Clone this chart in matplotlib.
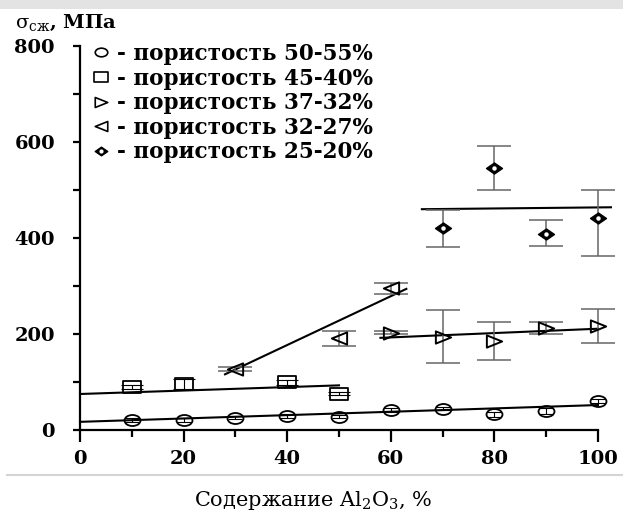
import matplotlib
matplotlib.use("Agg")
import matplotlib.pyplot as plt
import numpy as np
from matplotlib.lines import Line2D
from matplotlib.path import Path
from matplotlib.transforms import Affine2D
from matplotlib.ticker import MultipleLocator

# --- data ---
x_circ = [10, 20, 30, 40, 50, 60, 70, 80, 90, 100]
y_circ = [21, 21, 26, 30, 28, 42, 44, 33, 40, 60]
err_circ = [4, 4, 3, 4, 3, 4, 3, 5, 6, 4]

x_sq = [10, 20, 40, 50]
y_sq = [90, 96, 99, 76]
err_sq = [4, 10, 5, 3]

x_lt = [30, 50, 60]
y_lt = [127, 191, 295]
err_lt = [4, 15, 12]

x_rt = [60, 70, 80, 90, 100]
y_rt = [203, 194, 185, 213, 217]
err_rt = [4, 55, 40, 12, 35]

x_dm = [70, 80, 90, 100]
y_dm = [420, 546, 408, 441]
err_dm_lo = [38, 46, 24, 78]
err_dm_hi = [38, 46, 29, 60]

# trend lines (end points)
trend_circ = ([0, 100], [17, 52])
trend_sq = ([0, 50], [75, 93])
trend_lt = ([28, 63], [116, 294])
trend_rt = ([58, 100], [192, 211])
trend_dm = ([66, 102.5], [460, 464])

labels = [
    "- пористость 50-55%",
    "- пористость 45-40%",
    "- пористость 37-32%",
    "- пористость 32-27%",
    "- пористость 25-20%",
]

plt.rcParams["font.family"] = ["DejaVu Serif"]
plt.rcParams["mathtext.fontset"] = "custom"
plt.rcParams["mathtext.rm"] = "DejaVu Serif"


def stretched(path, sx):
    # the scanned figure is wider than tall, so markers are too
    return Affine2D().scale(sx, 1).transform_path(path)


m_circ = stretched(Path.unit_circle(), 1.45)
m_sq = stretched(Path.unit_rectangle().transformed(Affine2D().translate(-0.5, -0.5)), 1.4)
m_rt = stretched(Path([(-1, 1), (1, 0), (-1, -1), (-1, 1)], closed=True), 1.25)
m_lt = stretched(Path([(1, 1), (-1, 0), (1, -1), (1, 1)], closed=True), 1.25)
m_dm = stretched(Path([(0, 1), (1, 0), (0, -1), (-1, 0), (0, 1)], closed=True), 1.45)

fig = plt.figure(figsize=(6.23, 5.12), dpi=100)
ax = fig.add_axes([80 / 623, 82 / 512, 518 / 623, 384 / 512])

lw = 1.5
ekw = dict(ecolor="#666666", elinewidth=1.1, capsize=12, capthick=1.1, ls="none")

# trend lines
for tx, ty in [trend_circ, trend_sq, trend_lt, trend_rt, trend_dm]:
    ax.plot(tx, ty, color="black", lw=lw, clip_on=False, zorder=3)


def draw_errors(x, y, yerr, **kw):
    eb = ax.errorbar(x, y, yerr=yerr, fmt="none", zorder=4, **kw)
    for art in eb.lines[1] + eb.lines[2]:
        art.set_clip_on(False)


# circles
draw_errors(x_circ, y_circ, err_circ, ecolor="black", elinewidth=0.8, capsize=5, capthick=0.8)
ax.plot(x_circ, y_circ, ls="none", marker=m_circ, ms=11.5, mfc="none",
        mec="black", mew=1.3, zorder=5, clip_on=False)

# squares
draw_errors(x_sq, y_sq, err_sq, ecolor="black", elinewidth=0.8, capsize=8, capthick=0.8)
ax.plot(x_sq, y_sq, ls="none", marker=m_sq, ms=13, mfc="none",
        mec="black", mew=1.3, zorder=5, clip_on=False)

# left triangles
draw_errors(x_lt, y_lt, err_lt, **ekw)
ax.plot(x_lt, y_lt, ls="none", marker=m_lt, ms=11, mfc="none",
        mec="black", mew=1.4, zorder=5, clip_on=False)

# right triangles
draw_errors(x_rt, y_rt, err_rt, **ekw)
ax.plot(x_rt, y_rt, ls="none", marker=m_rt, ms=11, mfc="none",
        mec="black", mew=1.4, zorder=5, clip_on=False)

# diamonds
draw_errors(x_dm, y_dm, [err_dm_lo, err_dm_hi], **ekw)
ax.plot(x_dm, y_dm, ls="none", marker=m_dm, ms=11.5, mfc="black",
        mec="black", mew=1, zorder=5, clip_on=False)
ax.plot(x_dm, y_dm, ls="none", marker="o", ms=2.2, mfc="white",
        mec="white", zorder=6, clip_on=False)

ax.set_xlim(0, 100)
ax.set_ylim(0, 800)
for s in ["top", "right"]:
    ax.spines[s].set_visible(False)
for s in ["left", "bottom"]:
    ax.spines[s].set_linewidth(1.6)

ax.xaxis.set_major_locator(MultipleLocator(20))
ax.xaxis.set_minor_locator(MultipleLocator(10))
ax.yaxis.set_major_locator(MultipleLocator(200))
ax.yaxis.set_minor_locator(MultipleLocator(100))
ax.tick_params(axis="x", which="major", direction="out", length=8.5, width=1.6, pad=6)
ax.tick_params(axis="x", which="minor", direction="out", length=5, width=1.6)
ax.tick_params(axis="y", which="both", direction="out", length=5, width=1.6, pad=13)
for t in ax.get_xticklabels() + ax.get_yticklabels():
    t.set_fontweight("bold")
    t.set_fontsize(14)

# legend
handles = [
    Line2D([], [], ls="none", marker=m_circ, ms=9, mfc="none", mec="black", mew=1.2),
    Line2D([], [], ls="none", marker=m_sq, ms=10, mfc="none", mec="black", mew=1.2),
    Line2D([], [], ls="none", marker=m_rt, ms=9, mfc="none", mec="black", mew=1.2),
    Line2D([], [], ls="none", marker=m_lt, ms=9, mfc="none", mec="black", mew=1.2),
    (Line2D([], [], ls="none", marker=m_dm, ms=9, mfc="black", mec="black"),
     Line2D([], [], ls="none", marker="o", ms=2, mfc="white", mec="white")),
]
leg = ax.legend(handles, labels, loc="upper left",
                bbox_to_anchor=(90 / 623, 1 - 43 / 512), bbox_transform=fig.transFigure,
                frameon=False, handlelength=1.0, handletextpad=0.25, labelspacing=0.12,
                borderpad=0, borderaxespad=0,
                prop={"weight": "bold", "size": 15.5})

# axis titles
fig.text(15 / 623, 1 - 28 / 512, r"$\mathrm{σ_{сж}}$, МПа", fontsize=14,
         fontweight="bold", ha="left", va="baseline")
fig.text(313 / 623, 1 - 500 / 512, r"Содержание Al$_2$O$_3$, %", fontsize=15,
         ha="center", va="center")

# screenshot frame: gray band on top and separator line below the axes
fig.patches.append(plt.Rectangle((0, 1 - 9 / 512), 1, 9 / 512, transform=fig.transFigure,
                                 facecolor="#e3e3e3", edgecolor="none"))
fig.lines.append(Line2D([7 / 623, 1], [1 - 475 / 512] * 2, transform=fig.transFigure,
                        color="#d4d4d4", lw=1.5))

fig.savefig("out.png", dpi=100, facecolor="white")
